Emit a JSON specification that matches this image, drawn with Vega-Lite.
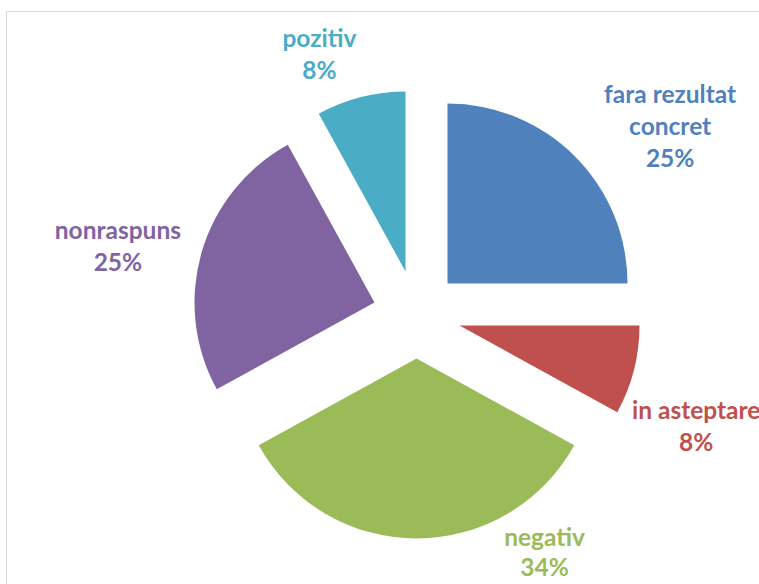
{
  "$schema": "https://vega.github.io/schema/vega-lite/v6.json",
  "width": 756,
  "height": 576,
  "autosize": {"type": "none"},
  "padding": {"left": 6.5, "top": 11.5, "right": -3.5, "bottom": -3.5},
  "background": "white",
  "config": {"view": {"stroke": null}},
  "layer": [
    {
      "data": {"values": [{}]},
      "mark": {"type": "rect", "fill": "transparent", "stroke": "#d6d6d6", "strokeWidth": 1},
      "encoding": {}
    },
    {
      "data": {
        "values": [
          {"cat": "fara rezultat concret", "value": 25, "label": "fara rezultat\nconcret\n25%"},
          {"cat": "in asteptare", "value": 8, "label": "in asteptare\n8%"},
          {"cat": "negativ", "value": 34, "label": "negativ\n34%"},
          {"cat": "nonraspuns", "value": 25, "label": "nonraspuns\n25%"},
          {"cat": "pozitiv", "value": 8, "label": "pozitiv\n8%"}
        ]
      },
      "transform": [{"stack": "value", "groupby": [], "as": ["t0", "t1"]}],
      "encoding": {
        "theta": {"field": "t0", "type": "quantitative", "scale": {"domain": [0, 100]}, "stack": null},
        "color": {
          "field": "cat",
          "type": "nominal",
          "scale": {
            "domain": ["fara rezultat concret", "in asteptare", "negativ", "nonraspuns", "pozitiv"],
            "range": ["#4F81BD", "#C0504D", "#9BBB59", "#8064A2", "#4BACC6"]
          },
          "legend": null
        }
      },
      "layer": [
        {
          "transform": [{"filter": "datum.cat === 'fara rezultat concret'"}],
          "mark": {"type": "arc", "outerRadius": 180, "xOffset": 63, "yOffset": -16},
          "encoding": {"theta2": {"field": "t1"}}
        },
        {
          "transform": [{"filter": "datum.cat === 'in asteptare'"}],
          "mark": {"type": "arc", "outerRadius": 180, "xOffset": 75, "yOffset": 26},
          "encoding": {"theta2": {"field": "t1"}}
        },
        {
          "transform": [{"filter": "datum.cat === 'negativ'"}],
          "mark": {"type": "arc", "outerRadius": 180, "xOffset": 32, "yOffset": 59},
          "encoding": {"theta2": {"field": "t1"}}
        },
        {
          "transform": [{"filter": "datum.cat === 'nonraspuns'"}],
          "mark": {"type": "arc", "outerRadius": 180, "xOffset": -10, "yOffset": 3},
          "encoding": {"theta2": {"field": "t1"}}
        },
        {
          "transform": [{"filter": "datum.cat === 'pozitiv'"}],
          "mark": {"type": "arc", "outerRadius": 180, "xOffset": 21, "yOffset": -28},
          "encoding": {"theta2": {"field": "t1"}}
        },
        {
          "transform": [{"filter": "datum.cat === 'fara rezultat concret'"}],
          "mark": {"type": "text", "radius": 315, "thetaOffset": 0.936, "xOffset": 32, "yOffset": 15, "dy": -32, "font": "Lato", "fontWeight": "bold", "fontSize": 24.5, "lineHeight": 32, "lineBreak": "\n", "align": "center", "baseline": "middle"},
          "encoding": {"text": {"field": "label"}}
        },
        {
          "transform": [{"filter": "datum.cat === 'in asteptare'"}],
          "mark": {"type": "text", "radius": 302, "thetaOffset": 0.387, "xOffset": 32, "yOffset": 15, "dy": -16, "font": "Lato", "fontWeight": "bold", "fontSize": 24.5, "lineHeight": 32, "lineBreak": "\n", "align": "center", "baseline": "middle"},
          "encoding": {"text": {"field": "label"}}
        },
        {
          "transform": [{"filter": "datum.cat === 'negativ'"}],
          "mark": {"type": "text", "radius": 272, "thetaOffset": 0.578, "xOffset": 32, "yOffset": 15, "dy": -15, "font": "Lato", "fontWeight": "bold", "fontSize": 24.5, "lineHeight": 30, "lineBreak": "\n", "align": "center", "baseline": "middle"},
          "encoding": {"text": {"field": "label"}}
        },
        {
          "transform": [{"filter": "datum.cat === 'nonraspuns'"}],
          "mark": {"type": "text", "radius": 306, "thetaOffset": 0.723, "xOffset": 32, "yOffset": 15, "dy": -16, "font": "Lato", "fontWeight": "bold", "fontSize": 24.5, "lineHeight": 32, "lineBreak": "\n", "align": "center", "baseline": "middle"},
          "encoding": {"text": {"field": "label"}}
        },
        {
          "transform": [{"filter": "datum.cat === 'pozitiv'"}],
          "mark": {"type": "text", "radius": 276, "thetaOffset": 0.143, "xOffset": 32, "yOffset": 15, "dy": -16, "font": "Lato", "fontWeight": "bold", "fontSize": 24.5, "lineHeight": 32, "lineBreak": "\n", "align": "center", "baseline": "middle"},
          "encoding": {"text": {"field": "label"}}
        }
      ]
    }
  ]
}
